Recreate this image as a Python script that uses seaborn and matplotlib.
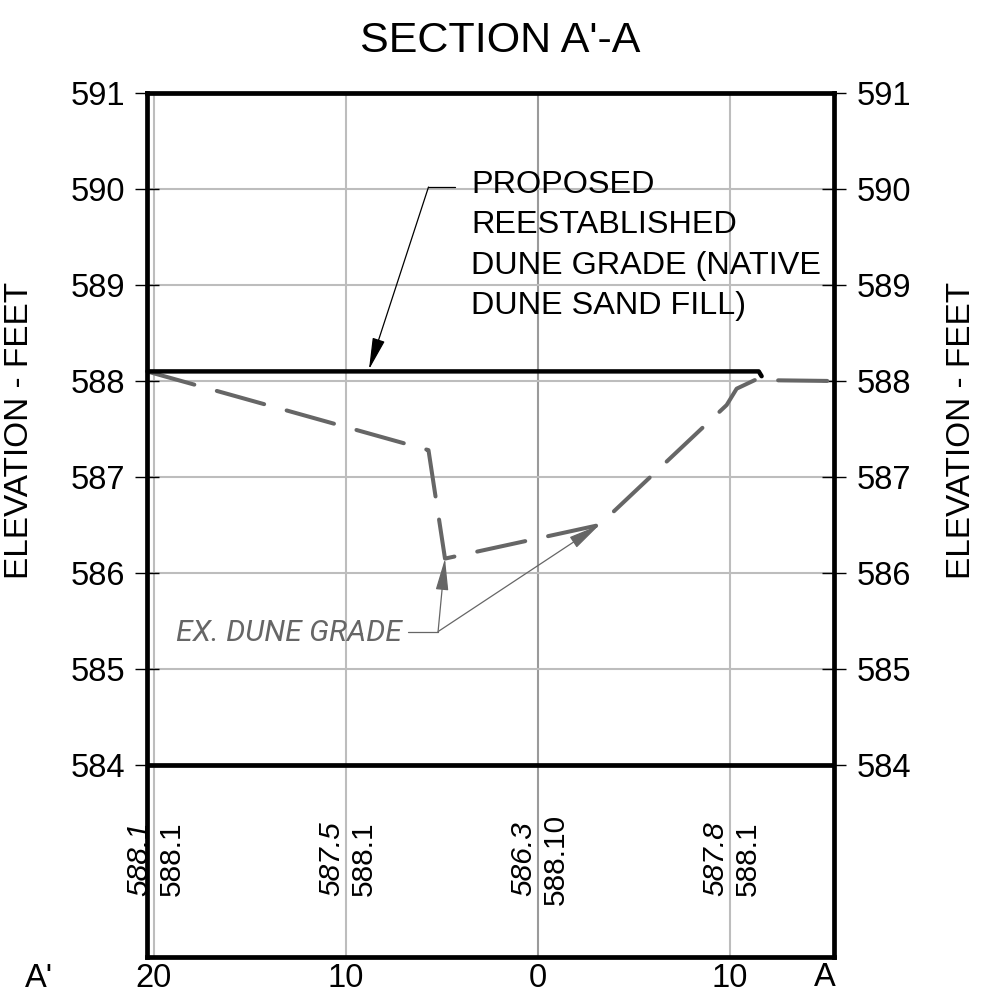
import pandas as pd
import matplotlib.pyplot as plt
import seaborn as sns

# station is negative on the A' side, tick labels drop the sign
STATIONS = [-20, -10, 0, 10]
STATION_LABELS = ["20", "10", "0", "10"]
ELEVATIONS = [584, 585, 586, 587, 588, 589, 590, 591]

PROPOSED_X = [-20.36, 11.5, 11.65]
PROPOSED_Y = [588.1, 588.1, 588.05]
EXISTING_X = [-20.36, -5.7, -4.84, 3.2, 9.83, 10.35, 11.3, 15.42]
EXISTING_Y = [588.1, 587.28, 586.15, 586.5, 587.75, 587.92, 588.01, 588.0]

EXISTING_LABELS = ["588.1", "587.5", "586.3", "587.8"]
PROPOSED_LABELS = ["588.1", "588.1", "588.10", "588.1"]

sns.set_theme(style="white")
plt.rcParams["font.family"] = ["Liberation Sans", "DejaVu Sans"]
plt.rcParams["text.color"] = "black"

GRAY = "#666666"
FS = 23.5

fig = plt.figure(figsize=(9.81, 9.94), dpi=100)
ax = fig.add_axes([147 / 981, 1 - 957 / 994, 687 / 981, 864 / 994])

ax.set_xlim(-20.36, 15.42)
ax.set_ylim(582, 591)
ax.set_xticks(STATIONS)
ax.set_xticklabels(STATION_LABELS, fontsize=FS)
ax.set_yticks(ELEVATIONS)
ax.tick_params(axis="x", length=0, pad=4.5, colors="black")
ax.tick_params(axis="y", direction="inout", length=17, width=1, labelsize=FS,
               left=True, right=True, labelleft=True, labelright=True, pad=7.5, colors="black")

ax.grid(True, color="#bdbdbd", lw=1.5)
ax.get_xgridlines()[2].set_color("#9a9a9a")
ax.set_axisbelow(True)
for s in ax.spines.values():
    s.set_visible(True)
    s.set_color("black")
    s.set_linewidth(3.4)
ax.axhline(584, color="black", lw=3.4)

sns.lineplot(x=EXISTING_X, y=EXISTING_Y, ax=ax, color=GRAY, lw=2.9, sort=False, errorbar=None,
             linestyle=(0, (12.2, 5.8)), dash_capstyle="round", clip_on=False)
sns.lineplot(x=PROPOSED_X, y=PROPOSED_Y, ax=ax, color="black", lw=3.2, sort=False, errorbar=None,
             solid_capstyle="round")

# elevations written along each station
for st, ex, pr in zip(STATIONS, EXISTING_LABELS, PROPOSED_LABELS):
    ax.text(st - 0.78, 583.02, ex, rotation=90, ha="center", va="center",
            fontsize=21.5, style="italic")
    ax.text(st + 0.95, 583.02, pr, rotation=90, ha="center", va="center", fontsize=21.5)

ax.text(-26, 581.78, "A'", ha="center", va="center", fontsize=FS, clip_on=False)
ax.text(14.95, 581.79, "A", ha="center", va="center", fontsize=FS, clip_on=False)

# callouts
ax.text(-3.47, 590.2, "PROPOSED\nREESTABLISHED\nDUNE GRADE (NATIVE\nDUNE SAND FILL)",
        ha="left", va="top", fontsize=23.3, linespacing=1.455)
ax.plot([-4.3, -5.7], [590.02, 590.02], color="black", lw=0.9)
ax.annotate("", xy=(-8.8, 588.12), xytext=(-5.7, 590.02),
            arrowprops=dict(arrowstyle="-|>,head_length=0.9,head_width=0.18", color="black",
                            lw=0.9, mutation_scale=22, shrinkA=0, shrinkB=0))

ax.text(-18.85, 585.37, "EX. DUNE GRADE", ha="left", va="center", fontsize=21.7, style="italic",
        color=GRAY, family=["Roboto", "Liberation Sans"])
ax.plot([-6.75, -5.2], [585.39, 585.39], color=GRAY, lw=0.9)
for tip in [(-4.84, 586.15), (3.2, 586.5)]:
    ax.annotate("", xy=tip, xytext=(-5.2, 585.39),
                arrowprops=dict(arrowstyle="-|>,head_length=0.9,head_width=0.18", color=GRAY,
                                lw=0.9, mutation_scale=22, shrinkA=0, shrinkB=0))

fig.text(500 / 981, 1 - 41 / 994, "SECTION A'-A", ha="center", va="center", fontsize=31)
fig.text(20 / 981, 1 - 430 / 994, "ELEVATION - FEET", rotation=90, ha="center", va="center", fontsize=24)
fig.text(961 / 981, 1 - 430 / 994, "ELEVATION - FEET", rotation=90, ha="center", va="center", fontsize=24)

fig.savefig("out.png", dpi=100)
